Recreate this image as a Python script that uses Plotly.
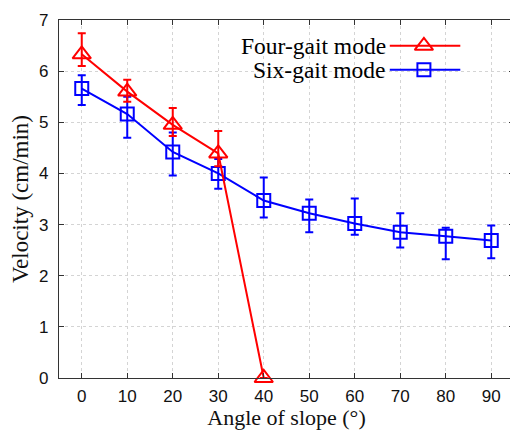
import plotly.graph_objects as go

# Data
angles = [0, 10, 20, 30, 40, 50, 60, 70, 80, 90]

four_x = [0, 10, 20, 30, 40]
four_v = [6.33, 5.60, 4.95, 4.39, 0.0]
four_err_plus = [0.41, 0.23, 0.33, 0.44, 0.0]
four_err_minus = [0.23, 0.20, 0.22, 0.25, 0.0]

six_v = [5.66, 5.16, 4.42, 4.00, 3.47, 3.22, 3.02, 2.85, 2.77, 2.69]
six_err_plus = [0.26, 0.34, 0.38, 0.28, 0.45, 0.27, 0.49, 0.37, 0.17, 0.29]
six_err_minus = [0.32, 0.46, 0.46, 0.30, 0.33, 0.37, 0.22, 0.30, 0.45, 0.35]

x_ticks = [0, 10, 20, 30, 40, 50, 60, 70, 80, 90]
y_ticks = [0, 1, 2, 3, 4, 5, 6, 7]

series_names = ["Four-gait mode", "Six-gait mode"]
RED = "#ff0000"
BLUE = "#0000ff"

fig = go.Figure()

fig.add_trace(go.Scatter(
    x=angles, y=six_v, mode="lines+markers", name=series_names[1],
    line=dict(color=BLUE, width=2),
    marker=dict(symbol="square-open", size=13, color=BLUE, line=dict(width=2, color=BLUE)),
    error_y=dict(type="data", symmetric=False, array=six_err_plus, arrayminus=six_err_minus,
                 color=BLUE, thickness=2, width=4),
    showlegend=False, cliponaxis=False,
))

fig.add_trace(go.Scatter(
    x=four_x, y=four_v, mode="lines+markers", name=series_names[0],
    line=dict(color=RED, width=2),
    marker=dict(symbol="triangle-up-open", size=16, color=RED, line=dict(width=2, color=RED)),
    error_y=dict(type="data", symmetric=False, array=four_err_plus, arrayminus=four_err_minus,
                 color=RED, thickness=2, width=4),
    showlegend=False, cliponaxis=False,
))

# Legend samples (drawn on a helper [0,1] axis pair, symbol right of text as in the reference)
leg_y = [0.928, 0.861]
leg_x0, leg_x1, leg_xm = 0.727, 0.882, 0.802
for name, col, sym, sz, yy in [(series_names[0], RED, "triangle-up-open", 16, leg_y[0]),
                               (series_names[1], BLUE, "square-open", 13, leg_y[1])]:
    fig.add_trace(go.Scatter(
        x=[leg_x0, leg_x1], y=[yy, yy], mode="lines", line=dict(color=col, width=2),
        xaxis="x2", yaxis="y2", showlegend=False, hoverinfo="skip",
    ))
    fig.add_trace(go.Scatter(
        x=[leg_xm], y=[yy], mode="markers",
        marker=dict(symbol=sym, size=sz, color=col, line=dict(width=2, color=col)),
        xaxis="x2", yaxis="y2", showlegend=False, hoverinfo="skip",
    ))
    fig.add_annotation(x=leg_x0 - 0.004, y=yy, xref="x2", yref="y2", text=name,
                       showarrow=False, xanchor="right", yanchor="middle",
                       font=dict(family="Liberation Serif", size=23.5, color="#000"))

axis_common = dict(
    showline=True, linecolor="#333", linewidth=1.3, mirror="ticks",
    ticks="inside", ticklen=5, tickcolor="#333", tickwidth=1,
    showgrid=True, gridcolor="#d4d4d4", griddash="dot", gridwidth=1,
    zeroline=False,
    tickfont=dict(family="Liberation Sans", size=17, color="#111"),
)

# The page body adds an 8px margin, so the figure is 8px smaller and margins shifted.
fig.update_layout(
    width=510, height=422,
    margin=dict(l=51, r=3, t=10, b=52),
    paper_bgcolor="white", plot_bgcolor="white",
    xaxis=dict(range=[-5, 95], tickvals=x_ticks, ticklabelstandoff=2,
               title=dict(text="Angle of slope (°)", standoff=0,
                          font=dict(family="Liberation Serif", size=22, color="#111")),
               **axis_common),
    yaxis=dict(range=[0, 7], tickvals=y_ticks, ticklabelstandoff=6,
               title=dict(text="Velocity (cm/min)", standoff=4,
                          font=dict(family="Liberation Serif", size=23, color="#111")),
               **axis_common),
    xaxis2=dict(range=[0, 1], overlaying="x", visible=False, fixedrange=True),
    yaxis2=dict(range=[0, 1], overlaying="y", visible=False, fixedrange=True),
    showlegend=False,
)

fig.write_html("out.html")
